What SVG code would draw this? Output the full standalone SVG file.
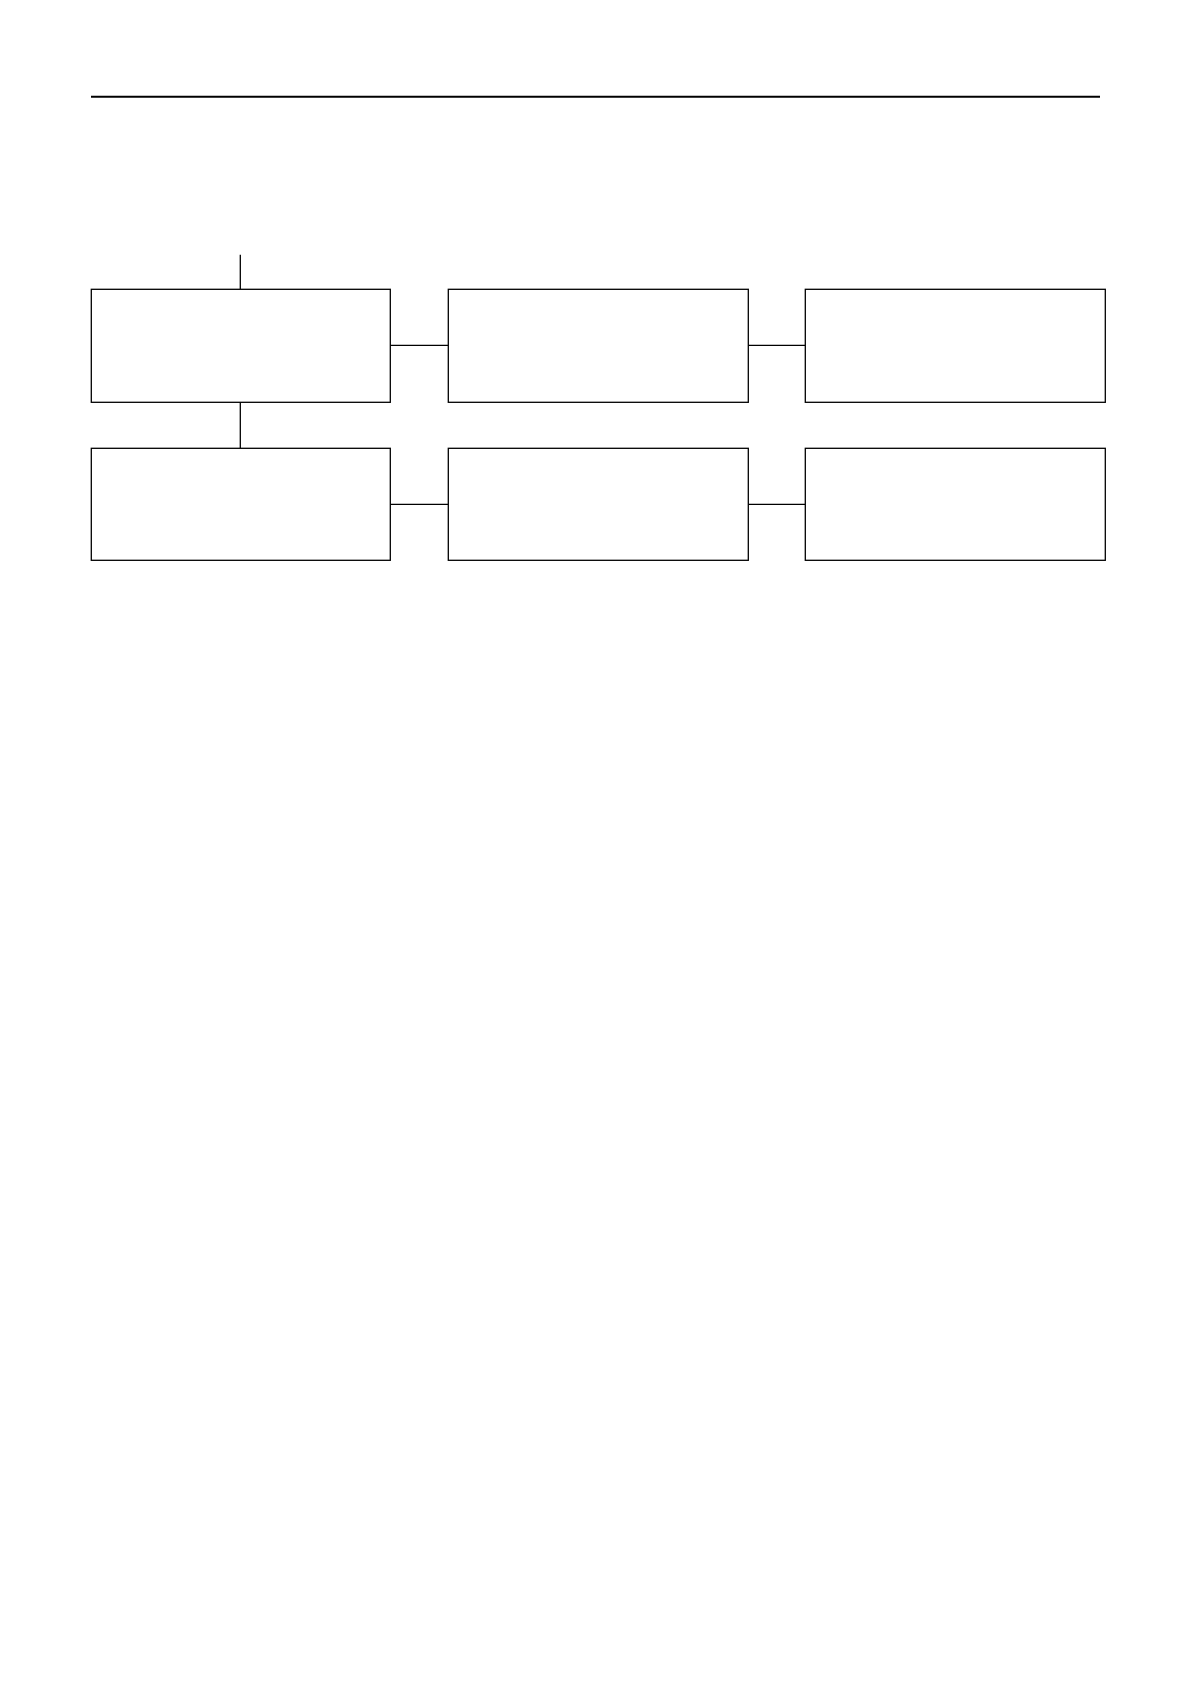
<svg xmlns="http://www.w3.org/2000/svg" width="1190" height="1684" viewBox="0 0 1190 1684">
<style>
.box{fill:#ffffff;stroke:#000000;stroke-width:1.3}
.con{stroke:#000000;stroke-width:1.3;fill:none}
</style>
<rect width="1190" height="1684" fill="#ffffff"/>
<line x1="91" y1="96.7" x2="1100" y2="96.7" stroke="#000000" stroke-width="2"/>
<g id="connectors">
<line class="con" x1="240.3" y1="254.7" x2="240.3" y2="289.3"/>
<line class="con" x1="240.3" y1="402.3" x2="240.3" y2="448.3"/>
<line class="con" x1="390.3" y1="345.3" x2="448.3" y2="345.3"/>
<line class="con" x1="748.3" y1="345.3" x2="805.3" y2="345.3"/>
<line class="con" x1="390.3" y1="504.3" x2="448.3" y2="504.3"/>
<line class="con" x1="748.3" y1="504.3" x2="805.3" y2="504.3"/>
</g>
<g id="node1"><rect class="box" x="91.3" y="289.3" width="299" height="113"/></g>
<g id="node2"><rect class="box" x="448.3" y="289.3" width="300" height="113"/></g>
<g id="node3"><rect class="box" x="805.3" y="289.3" width="300" height="113"/></g>
<g id="node4"><rect class="box" x="91.3" y="448.3" width="299" height="112"/></g>
<g id="node5"><rect class="box" x="448.3" y="448.3" width="300" height="112"/></g>
<g id="node6"><rect class="box" x="805.3" y="448.3" width="300" height="112"/></g>
</svg>
